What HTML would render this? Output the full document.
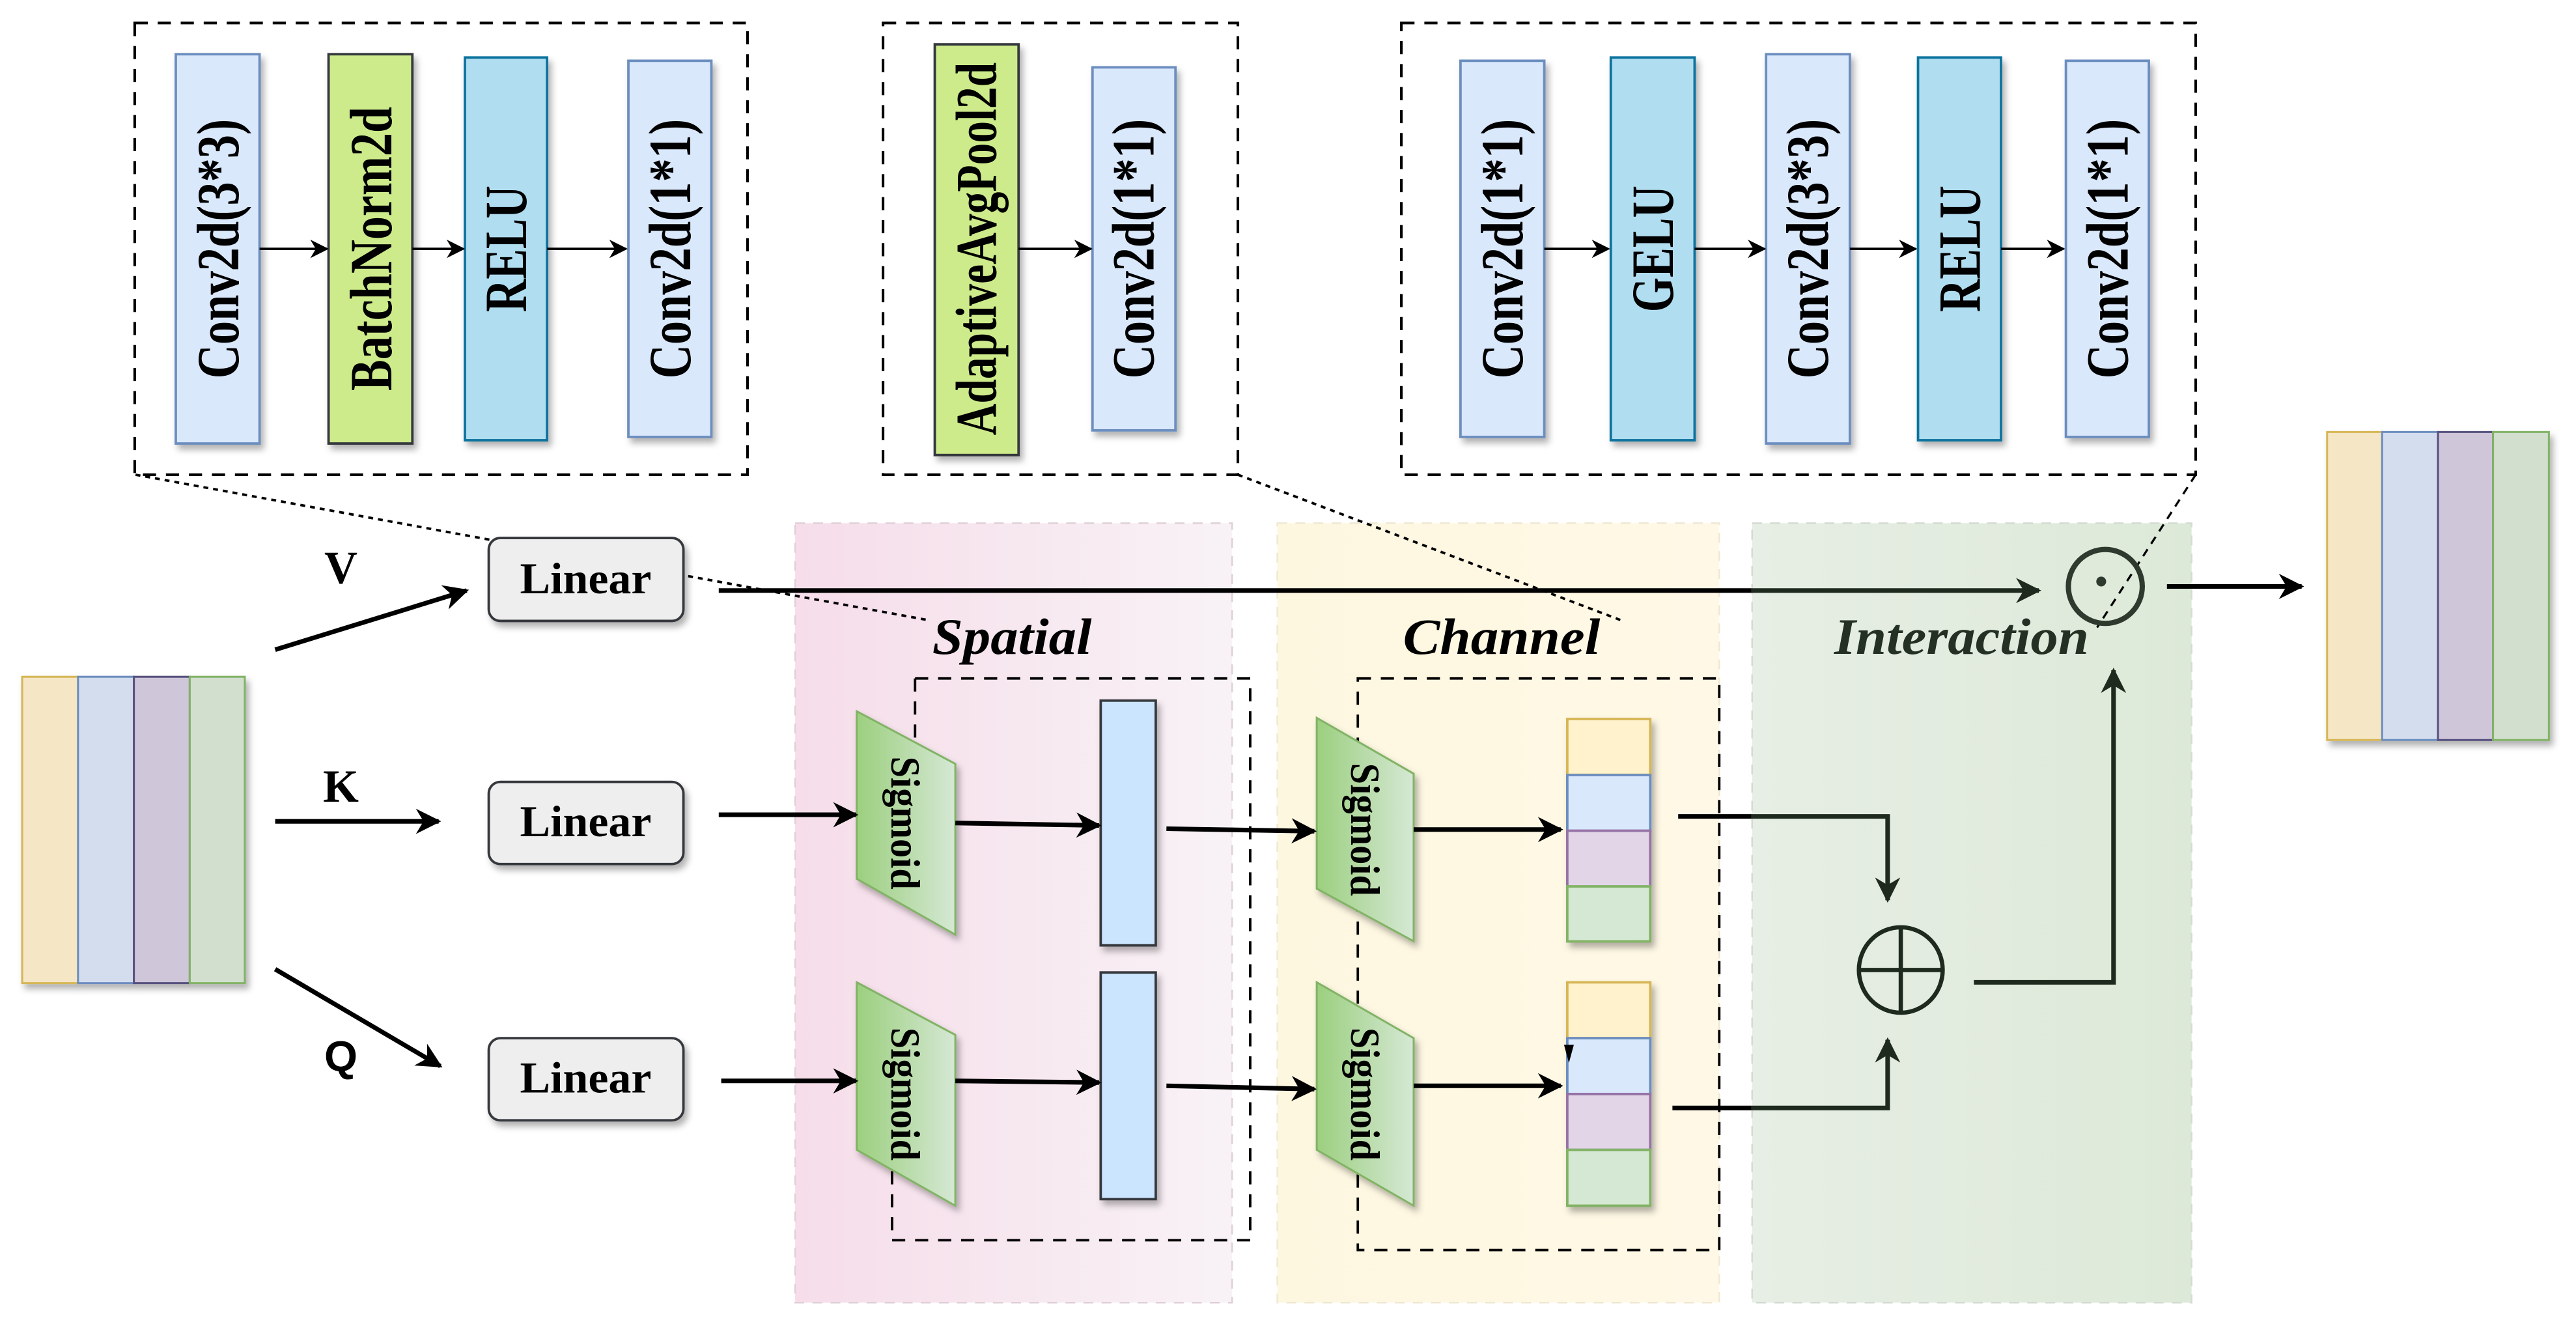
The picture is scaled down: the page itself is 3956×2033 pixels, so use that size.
<!DOCTYPE html>
<html><head><meta charset="utf-8"><style>html,body{margin:0;padding:0;background:#fff}svg{display:block}</style></head>
<body>
<svg xmlns="http://www.w3.org/2000/svg" width="3956" height="2033" viewBox="0 0 1568 806" preserveAspectRatio="none" font-family="'Liberation Serif', serif">
<defs>
<filter id="sh" x="-20%" y="-20%" width="150%" height="150%"><feDropShadow dx="2" dy="3" stdDeviation="2" flood-color="#000" flood-opacity="0.3"/></filter>
<linearGradient id="gp" x1="0" x2="1"><stop offset="0" stop-color="#f6dde9"/><stop offset="1" stop-color="#f8f2f6"/></linearGradient>
<linearGradient id="gy" x1="0" x2="1"><stop offset="0" stop-color="#fdf7e0"/><stop offset="1" stop-color="#fff8e6"/></linearGradient>
<linearGradient id="gg" x1="0" x2="1"><stop offset="0" stop-color="#e7eee5"/><stop offset="1" stop-color="#dde9d8"/></linearGradient>
<linearGradient id="gs" x1="0" x2="1"><stop offset="0" stop-color="#9ccf7f"/><stop offset="1" stop-color="#d5e8d4"/></linearGradient>
<marker id="ah" viewBox="0 0 10 10" refX="9" refY="5" markerWidth="5.5" markerHeight="5.5" orient="auto"><path d="M0,0 L10,5 L0,10 L3,5 z" fill="#000"/></marker>
<marker id="ahs" viewBox="0 0 10 10" refX="9" refY="5" markerWidth="7.5" markerHeight="7.5" orient="auto"><path d="M0,0 L10,5 L0,10 L3,5 z" fill="#000"/></marker>
<marker id="ahd" viewBox="0 0 10 10" refX="9" refY="5" markerWidth="5.5" markerHeight="5.5" orient="auto"><path d="M0,0 L10,5 L0,10 L3,5 z" fill="#1e2a1e"/></marker>
</defs>

<rect x="484" y="318.5" width="266" height="474.5" fill="url(#gp)" stroke="#e0d0d8" stroke-dasharray="6 5" stroke-width="1"/>
<rect x="777.5" y="318.5" width="269" height="474.5" fill="url(#gy)" stroke="#efe8d4" stroke-dasharray="6 5" stroke-width="1"/>
<rect x="1066.5" y="318.5" width="267.5" height="474.5" fill="url(#gg)" stroke="#d4dcd2" stroke-dasharray="6 5" stroke-width="1"/>

<g fill="none" stroke="#000" stroke-width="1.6" stroke-dasharray="8 6">
<rect x="82" y="14" width="373" height="275"/>
<rect x="537.5" y="14" width="216" height="275"/>
<rect x="853" y="14" width="483.5" height="275"/>
</g>
<g fill="none" stroke="#000" stroke-width="1.5" stroke-dasharray="3 3">
<line x1="82.5" y1="289" x2="565" y2="377.5"/>
<line x1="753.5" y1="289" x2="986.5" y2="377.5"/>
</g>
<line x1="1336.5" y1="289" x2="1276.5" y2="382" stroke="#000" stroke-width="1.3" stroke-dasharray="5 4"/>

<g filter="url(#sh)" stroke-width="1.5">
<rect x="107" y="33" width="51" height="237" fill="#dae8fc" stroke="#6c8ebf"/>
<rect x="200" y="33" width="51" height="237" fill="#cdeb8b" stroke="#36393d"/>
<rect x="283" y="35" width="50" height="233" fill="#b1ddf0" stroke="#10739e"/>
<rect x="382.5" y="37" width="50.5" height="229" fill="#dae8fc" stroke="#6c8ebf"/>
<rect x="569" y="27" width="51" height="250" fill="#cdeb8b" stroke="#36393d"/>
<rect x="665" y="41" width="50.5" height="221" fill="#dae8fc" stroke="#6c8ebf"/>
<rect x="889" y="37" width="51" height="229" fill="#dae8fc" stroke="#6c8ebf"/>
<rect x="980.5" y="35" width="51" height="233" fill="#b1ddf0" stroke="#10739e"/>
<rect x="1075" y="33" width="51" height="237" fill="#dae8fc" stroke="#6c8ebf"/>
<rect x="1167.5" y="35" width="50.5" height="233" fill="#b1ddf0" stroke="#10739e"/>
<rect x="1257.5" y="37" width="50.5" height="229" fill="#dae8fc" stroke="#6c8ebf"/>
</g>
<g font-weight="bold" font-size="27" text-anchor="middle" dominant-baseline="central" fill="#000">
<text transform="translate(133,151.5) rotate(-90) scale(1,1.35)" textLength="158" lengthAdjust="spacingAndGlyphs">Conv2d(3*3)</text>
<text transform="translate(226,151.5) rotate(-90) scale(1,1.35)" textLength="173" lengthAdjust="spacingAndGlyphs">BatchNorm2d</text>
<text transform="translate(308,151.5) rotate(-90) scale(1,1.35)" textLength="77" lengthAdjust="spacingAndGlyphs">RELU</text>
<text transform="translate(408,151.5) rotate(-90) scale(1,1.35)" textLength="158" lengthAdjust="spacingAndGlyphs">Conv2d(1*1)</text>
<text transform="translate(595,151.5) rotate(-90) scale(1,1.3)" textLength="227" lengthAdjust="spacingAndGlyphs">AdaptiveAvgPool2d</text>
<text transform="translate(690,151.5) rotate(-90) scale(1,1.35)" textLength="158" lengthAdjust="spacingAndGlyphs">Conv2d(1*1)</text>
<text transform="translate(914.5,151.5) rotate(-90) scale(1,1.35)" textLength="158" lengthAdjust="spacingAndGlyphs">Conv2d(1*1)</text>
<text transform="translate(1006,151.5) rotate(-90) scale(1,1.35)" textLength="77" lengthAdjust="spacingAndGlyphs">GELU</text>
<text transform="translate(1100.5,151.5) rotate(-90) scale(1,1.35)" textLength="158" lengthAdjust="spacingAndGlyphs">Conv2d(3*3)</text>
<text transform="translate(1193,151.5) rotate(-90) scale(1,1.35)" textLength="77" lengthAdjust="spacingAndGlyphs">RELU</text>
<text transform="translate(1283,151.5) rotate(-90) scale(1,1.35)" textLength="158" lengthAdjust="spacingAndGlyphs">Conv2d(1*1)</text>
</g>
<g stroke="#000" stroke-width="1.5" marker-end="url(#ahs)">
<line x1="158" y1="151.5" x2="199" y2="151.5"/>
<line x1="251" y1="151.5" x2="282" y2="151.5"/>
<line x1="333" y1="151.5" x2="381" y2="151.5"/>
<line x1="620" y1="151.5" x2="664" y2="151.5"/>
<line x1="940" y1="151.5" x2="979" y2="151.5"/>
<line x1="1031.5" y1="151.5" x2="1074" y2="151.5"/>
<line x1="1126" y1="151.5" x2="1166" y2="151.5"/>
<line x1="1218" y1="151.5" x2="1256" y2="151.5"/>
</g>

<g filter="url(#sh)" stroke-width="1.2">
<rect x="13.5" y="412" width="34" height="186.5" fill="#f5e6c6" stroke="#d6b656"/>
<rect x="47.5" y="412" width="34" height="186.5" fill="#d4ddee" stroke="#6c8ebf"/>
<rect x="81.5" y="412" width="34" height="186.5" fill="#cfc6d9" stroke="#56517e"/>
<rect x="115.5" y="412" width="33.5" height="186.5" fill="#d2dfcf" stroke="#82b366"/>
</g>
<g filter="url(#sh)" stroke-width="1.2">
<rect x="1416.5" y="263" width="33.5" height="187.5" fill="#f5e6c6" stroke="#d6b656"/>
<rect x="1450" y="263" width="34" height="187.5" fill="#d4ddee" stroke="#6c8ebf"/>
<rect x="1484" y="263" width="33.5" height="187.5" fill="#cfc6d9" stroke="#56517e"/>
<rect x="1517.5" y="263" width="34" height="187.5" fill="#d2dfcf" stroke="#82b366"/>
</g>

<g filter="url(#sh)" fill="#eeeeee" stroke="#36393d" stroke-width="1.5">
<rect x="297.5" y="327.5" width="118.5" height="50.5" rx="7"/>
<rect x="297.5" y="476" width="118.5" height="50" rx="7"/>
<rect x="297.5" y="632" width="118.5" height="50" rx="7"/>
</g>
<g font-weight="bold" font-size="27" text-anchor="middle" dominant-baseline="central">
<text x="356.5" y="352" textLength="80" lengthAdjust="spacingAndGlyphs">Linear</text>
<text x="356.5" y="500" textLength="80" lengthAdjust="spacingAndGlyphs">Linear</text>
<text x="356.5" y="656" textLength="80" lengthAdjust="spacingAndGlyphs">Linear</text>
<text x="207.5" y="346" font-size="28">V</text>
<text x="207.5" y="479" font-size="28">K</text>
<text x="207.5" y="643" font-size="26" font-family="'Liberation Sans', sans-serif">Q</text>
</g>

<g fill="none" stroke="#000" stroke-width="1.5" stroke-dasharray="8 6">
<path d="M557,413 L761,413 L761,755 L543,755 L543,690 M557,413 L557,470"/>
<rect x="826.5" y="413" width="220" height="348"/>
</g>

<g filter="url(#sh)" fill="url(#gs)" stroke="#82b366" stroke-width="1.2">
<path d="M521.5,433 L581.5,465 L581.5,569 L521.5,535 Z"/>
<path d="M521.5,598 L581.5,630 L581.5,734 L521.5,700 Z"/>
<path d="M801.5,437 L860.5,471 L860.5,573 L801.5,541 Z"/>
<path d="M801.5,598 L860.5,632 L860.5,734 L801.5,700 Z"/>
</g>
<g font-weight="bold" font-size="22" text-anchor="middle" dominant-baseline="central">
<text transform="translate(551,501) rotate(90) scale(1,1.15)" textLength="81" lengthAdjust="spacingAndGlyphs">Sigmoid</text>
<text transform="translate(551,666) rotate(90) scale(1,1.15)" textLength="81" lengthAdjust="spacingAndGlyphs">Sigmoid</text>
<text transform="translate(831,505) rotate(90) scale(1,1.15)" textLength="81" lengthAdjust="spacingAndGlyphs">Sigmoid</text>
<text transform="translate(831,666) rotate(90) scale(1,1.15)" textLength="81" lengthAdjust="spacingAndGlyphs">Sigmoid</text>
</g>
<g filter="url(#sh)" fill="#cce5ff" stroke="#36393d" stroke-width="1.5">
<rect x="670" y="426.5" width="33.5" height="149"/>
<rect x="670" y="592" width="33.5" height="138"/>
</g>
<g filter="url(#sh)" stroke-width="1.5">
<rect x="954" y="437.7" width="50.5" height="34" fill="#fff2cc" stroke="#d6b656"/>
<rect x="954" y="471.8" width="50.5" height="34" fill="#dae8fc" stroke="#6c8ebf"/>
<rect x="954" y="505.7" width="50.5" height="34" fill="#e1d5e7" stroke="#9673a6"/>
<rect x="954" y="539.6" width="50.5" height="33.5" fill="#d5e8d4" stroke="#82b366"/>
<rect x="954" y="598" width="50.5" height="34" fill="#fff2cc" stroke="#d6b656"/>
<rect x="954" y="632" width="50.5" height="34" fill="#dae8fc" stroke="#6c8ebf"/>
<rect x="954" y="666" width="50.5" height="34" fill="#e1d5e7" stroke="#9673a6"/>
<rect x="954" y="700" width="50.5" height="34" fill="#d5e8d4" stroke="#82b366"/>
</g>
<path d="M952,636 L958,636 L955,647 Z" fill="#000"/>

<g stroke="#000" stroke-width="2.8" fill="none" marker-end="url(#ah)">
<line x1="167.5" y1="395.5" x2="284" y2="359.5"/>
<line x1="167.5" y1="500" x2="267" y2="500"/>
<line x1="167.5" y1="590" x2="268" y2="649"/>
<line x1="437.5" y1="359.5" x2="1066" y2="359.5" marker-end="none"/>
<line x1="437.5" y1="496" x2="521" y2="496"/>
<line x1="581.5" y1="501" x2="669" y2="502.5"/>
<line x1="710" y1="504.5" x2="800" y2="506"/>
<line x1="439" y1="658" x2="521" y2="658"/>
<line x1="581.5" y1="658" x2="669" y2="659"/>
<line x1="710" y1="661" x2="800" y2="663"/>
<line x1="860.5" y1="505" x2="950" y2="505"/>
<line x1="860.5" y1="661" x2="950" y2="661"/>
<line x1="1319" y1="357" x2="1401" y2="357"/>
<polyline points="1021.5,497 1066,497" marker-end="none"/>
<polyline points="1018,674.5 1066,674.5" marker-end="none"/>
</g>
<g stroke="#1e2a1e" stroke-width="2.8" fill="none" marker-end="url(#ahd)">
<line x1="1066" y1="359.5" x2="1241" y2="359.5"/>
<polyline points="1066,497 1149,497 1149,548"/>
<polyline points="1066,674.5 1149,674.5 1149,633"/>
<polyline points="1201.5,598 1286.5,598 1286.5,408"/>
</g>
<circle cx="1281.5" cy="357" r="22.5" fill="none" stroke="#2f3a2f" stroke-width="3.2"/>
<circle cx="1279" cy="354" r="3" fill="#2f3a2f"/>
<g fill="none" stroke="#1e2a1e" stroke-width="2.6">
<ellipse cx="1157" cy="590.5" rx="25.5" ry="26"/>
<line x1="1131.5" y1="590.5" x2="1182.5" y2="590.5"/>
<line x1="1157" y1="564.5" x2="1157" y2="616.5"/>
</g>

<g font-style="italic" font-weight="bold" font-size="31" text-anchor="middle">
<text x="616" y="398" textLength="97" lengthAdjust="spacingAndGlyphs">Spatial</text>
<text x="914" y="398" textLength="120" lengthAdjust="spacingAndGlyphs">Channel</text>
<text x="1194" y="398" textLength="155" lengthAdjust="spacingAndGlyphs" fill="#243024">Interaction</text>
</g>
</svg>
</body></html>
